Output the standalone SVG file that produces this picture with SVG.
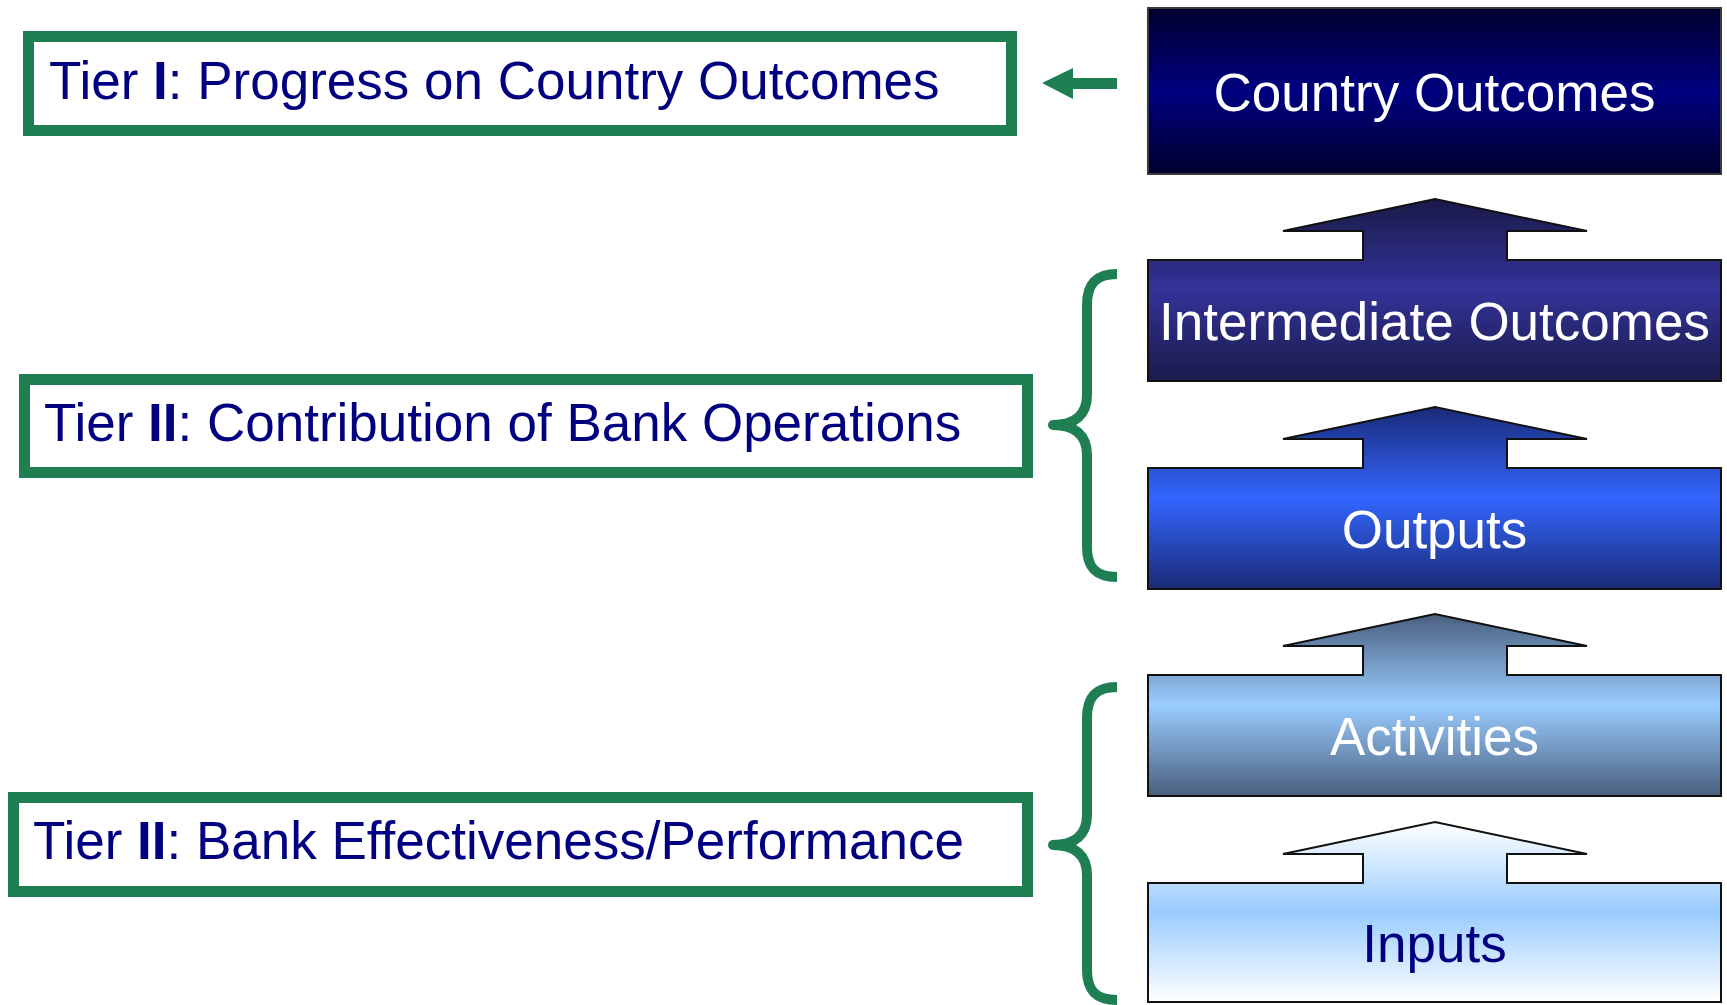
<svg xmlns="http://www.w3.org/2000/svg" width="1727" height="1005" viewBox="0 0 1727 1005">
<defs>
<linearGradient id="gCountry" x1="0" y1="0" x2="0" y2="1">
<stop offset="0" stop-color="#00002e"/><stop offset="0.5" stop-color="#000080"/><stop offset="1" stop-color="#00002e"/>
</linearGradient>
<linearGradient id="gInter" x1="0" y1="0" x2="0" y2="1">
<stop offset="0" stop-color="#1a1a48"/><stop offset="0.5" stop-color="#333399"/><stop offset="1" stop-color="#1a1a4a"/>
</linearGradient>
<linearGradient id="gOut" x1="0" y1="0" x2="0" y2="1">
<stop offset="0" stop-color="#1a2a78"/><stop offset="0.5" stop-color="#3366ff"/><stop offset="1" stop-color="#1a2a75"/>
</linearGradient>
<linearGradient id="gAct" x1="0" y1="0" x2="0" y2="1">
<stop offset="0" stop-color="#4a5f7e"/><stop offset="0.5" stop-color="#99ccff"/><stop offset="1" stop-color="#4a5f7e"/>
</linearGradient>
<linearGradient id="gIn" x1="0" y1="0" x2="0" y2="1">
<stop offset="0" stop-color="#ffffff"/><stop offset="0.5" stop-color="#99ccff"/><stop offset="1" stop-color="#ffffff"/>
</linearGradient>
</defs>
<style>
.tier{fill:#ffffff;stroke:#1f7f53;stroke-width:11}
.tiertext{font-family:"Liberation Sans",Arial,sans-serif;font-size:53px;fill:#000080}
.blk{stroke:#111111;stroke-width:2;stroke-linejoin:miter}
.lbl{font-family:"Liberation Sans",Arial,sans-serif;font-size:53px;fill:#ffffff;text-anchor:middle}
.brace{fill:none;stroke:#1f7f53;stroke-width:10;stroke-linejoin:round;stroke-linecap:butt}
</style>
<rect width="1727" height="1005" fill="#ffffff"/>

<g id="tier1">
<rect class="tier" x="28.5" y="36.5" width="983" height="94"/>
<text class="tiertext" x="49" y="99">Tier <tspan font-weight="bold">I</tspan>: Progress on Country Outcomes</text>
</g>
<g id="tier2-contribution">
<rect class="tier" x="24.5" y="379.5" width="1003" height="93"/>
<text class="tiertext" x="44" y="441">Tier <tspan font-weight="bold">II</tspan>: Contribution of Bank Operations</text>
</g>
<g id="tier2-effectiveness">
<rect class="tier" x="13.5" y="797.5" width="1014" height="94"/>
<text class="tiertext" x="33" y="859">Tier <tspan font-weight="bold">II</tspan>: Bank Effectiveness/Performance</text>
</g>

<g id="country-outcomes">
<rect x="1148" y="8" width="573" height="166" fill="url(#gCountry)" stroke="#3a3a3a" stroke-width="2"/>
<text class="lbl" x="1434.5" y="111">Country Outcomes</text>
</g>
<g id="intermediate-outcomes">
<path class="blk" fill="url(#gInter)" d="M1148,260 L1363,260 L1363,231 L1283,231 L1435,199 L1587,231 L1507,231 L1507,260 L1721,260 L1721,381 L1148,381 Z"/>
<text class="lbl" x="1434.5" y="340">Intermediate Outcomes</text>
</g>
<g id="outputs">
<path class="blk" fill="url(#gOut)" d="M1148,468 L1363,468 L1363,439 L1283,439 L1435,407 L1587,439 L1507,439 L1507,468 L1721,468 L1721,589 L1148,589 Z"/>
<text class="lbl" x="1434.5" y="548">Outputs</text>
</g>
<g id="activities">
<path class="blk" fill="url(#gAct)" d="M1148,675 L1363,675 L1363,646 L1283,646 L1435,614 L1587,646 L1507,646 L1507,675 L1721,675 L1721,796 L1148,796 Z"/>
<text class="lbl" x="1434.5" y="755">Activities</text>
</g>
<g id="inputs">
<path class="blk" fill="url(#gIn)" d="M1148,883 L1363,883 L1363,854 L1283,854 L1435,822 L1587,854 L1507,854 L1507,883 L1721,883 L1721,1002 L1148,1002 Z"/>
<text class="lbl" x="1434.5" y="962" fill="#000080" style="fill:#000080">Inputs</text>
</g>

<g id="connectors">
<path fill="#1f7f53" d="M1042,83 L1073,68 L1073,78 L1117,78 L1117,89 L1073,89 L1073,99 Z"/>
<path class="brace" d="M1117,274 C1095,274 1087,285 1087,305 L1087,395 C1087,415 1075,425 1053,425 C1075,425 1087,435 1087,455 L1087,547 C1087,567 1095,577 1117,577"/>
<path class="brace" d="M1117,687 C1095,687 1087,698 1087,718 L1087,815 C1087,835 1075,845 1053,845 C1075,845 1087,855 1087,875 L1087,970 C1087,990 1095,1000 1117,1000"/>
</g>
</svg>
